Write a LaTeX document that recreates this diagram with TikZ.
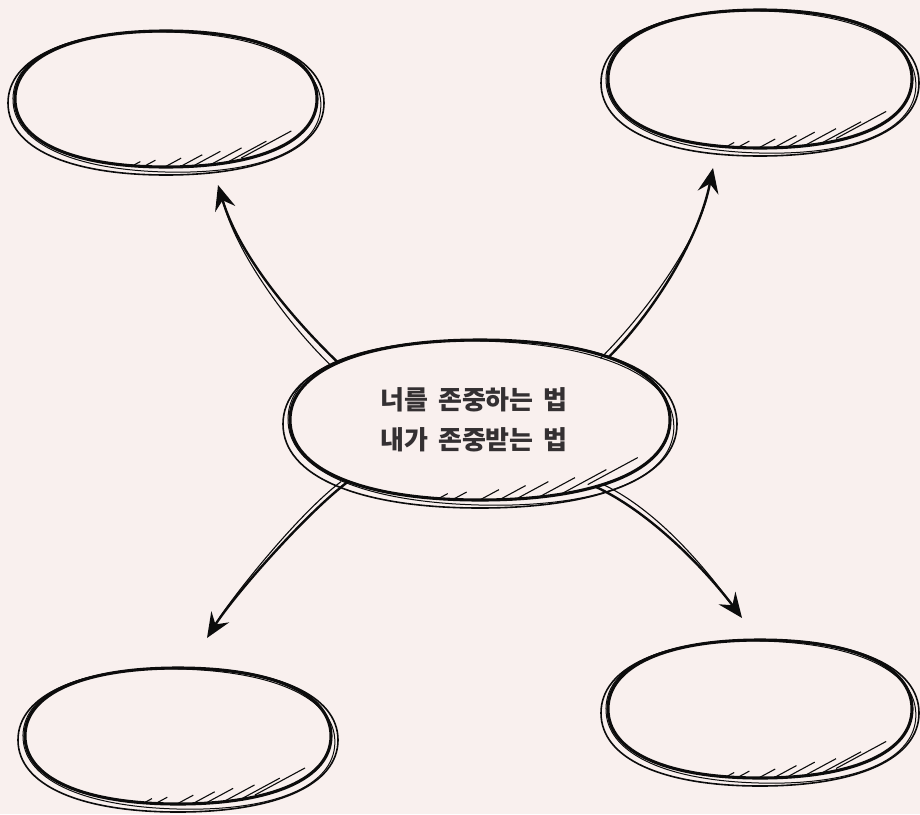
\documentclass[tikz,border=0pt]{standalone}
\usepackage{fontspec}
\newfontfamily\kr{Noto Sans CJK KR}
\usetikzlibrary{arrows.meta,shapes.geometric}
\definecolor{bgc}{RGB}{249,240,238}
\definecolor{inkc}{RGB}{12,12,12}
\definecolor{txtc}{RGB}{52,48,50}
\newcommand\kk{0.62}
\newcommand\labfont{\kr\bfseries\fontsize{26}{40}\selectfont}
\newcommand\ovaldraw[5]{\draw[inkc,#5] ({(#1)+(#3)},{#2}) .. controls ({(#1)+(#3)},{(#2)+\kk*(#4)}) and ({(#1)+\kk*(#3)},{(#2)+(#4)}) .. ({#1},{(#2)+(#4)}) .. controls ({(#1)-\kk*(#3)},{(#2)+(#4)}) and ({(#1)-(#3)},{(#2)+\kk*(#4)}) .. ({(#1)-(#3)},{#2}) .. controls ({(#1)-(#3)},{(#2)-\kk*(#4)}) and ({(#1)-\kk*(#3)},{(#2)-(#4)}) .. ({#1},{(#2)-(#4)}) .. controls ({(#1)+\kk*(#3)},{(#2)-(#4)}) and ({(#1)+(#3)},{(#2)-\kk*(#4)}) .. cycle;}
\newcommand\ovalclip[4]{\clip ({(#1)+(#3)},{#2}) .. controls ({(#1)+(#3)},{(#2)+\kk*(#4)}) and ({(#1)+\kk*(#3)},{(#2)+(#4)}) .. ({#1},{(#2)+(#4)}) .. controls ({(#1)-\kk*(#3)},{(#2)+(#4)}) and ({(#1)-(#3)},{(#2)+\kk*(#4)}) .. ({(#1)-(#3)},{#2}) .. controls ({(#1)-(#3)},{(#2)-\kk*(#4)}) and ({(#1)-\kk*(#3)},{(#2)-(#4)}) .. ({#1},{(#2)-(#4)}) .. controls ({(#1)+\kk*(#3)},{(#2)-(#4)}) and ({(#1)+(#3)},{(#2)-\kk*(#4)}) .. cycle;}
\newcommand\blob[5]{%
  \node[hub, minimum width={2.07*(#4)*1pt}, minimum height={2.07*(#5)*1pt}] (#1) at (#2,#3) {};
  \ovaldraw{#2}{#3}{#4}{#5}{line width=3.1pt}
  \ovaldraw{#2}{(#3)+4}{(#4)+7}{(#5)+4}{line width=1.6pt}
  \ovaldraw{(#2)+1}{(#3)+3}{(#4)+3}{(#5)+2}{line width=1pt, rotate around={-1.5:(#2,#3)}}
  \begin{scope}
    \ovalclip{#2}{#3}{#4}{#5}
    \foreach \a/\b in {-0.17/0.92,-0.07/0.90,0.10/0.87,0.24/0.82,0.36/0.77,0.50/0.72,0.665/0.62,0.83/0.47}
      \draw[hatchl] ({(#2)+\a*(#4)},{(#3)+\b*(#5)}) -- ++(-50,27);
  \end{scope}}
\tikzset{
  hub/.style={ellipse, draw=none, inner sep=0pt, outer sep=0pt},
  hatchl/.style={inkc, line width=1.1pt},
  arr/.style={inkc, line width=2.4pt, -{Stealth[length=25pt,width=21pt,inset=9pt]}},
  arrtwo/.style={inkc, line width=1.1pt, shorten >=24pt},
}
\begin{document}
\begin{tikzpicture}[x=1pt,y=-1pt]
\fill[bgc] (0,0) rectangle (920,814);
\useasboundingbox (0,0) rectangle (920,814);

\blob{tl}{166}{99}{151}{68}
\blob{tr}{760}{79}{152}{69}
\blob{c}{480}{420}{190}{80}
\blob{bl}{178}{736}{153}{68}
\blob{br}{760}{709}{152}{69}

\node[font=\labfont, text=txtc, align=center] (lbl) at (474,420) {\spaceskip=10pt\relax 너를 존중하는 법\\\spaceskip=10pt\relax 내가 존중받는 법};

\coordinate (tlT) at (218,185);
\coordinate (trT) at (713,168);
\coordinate (blT) at (207,638);
\coordinate (brT) at (742,618);

% top-left
\draw[arr] (c.158) .. controls (296,322) and (240,258) .. (tlT);
\draw[arrtwo] ([shift={(-7,3)}]c.158) .. controls (289,325) and (240,258) .. (tlT);
% top-right
\draw[arr] (c.26) .. controls (650,316) and (698,243) .. (trT);
\draw[arrtwo] ([shift={(-8,1)}]c.26) .. controls (642,317) and (698,243) .. (trT);
% bottom-left
\draw[arr] (c.205) .. controls (303,516) and (232,598) .. (blT);
\draw[arrtwo] ([shift={(-7,0)}]c.205) .. controls (296,516) and (232,598) .. (blT);
% bottom-right
\draw[arr] (c.-30) .. controls (656,515) and (712,578) .. (brT);
\draw[arrtwo] ([shift={(6,-3)}]c.-30) .. controls (662,512) and (712,578) .. (brT);
\end{tikzpicture}
\end{document}
